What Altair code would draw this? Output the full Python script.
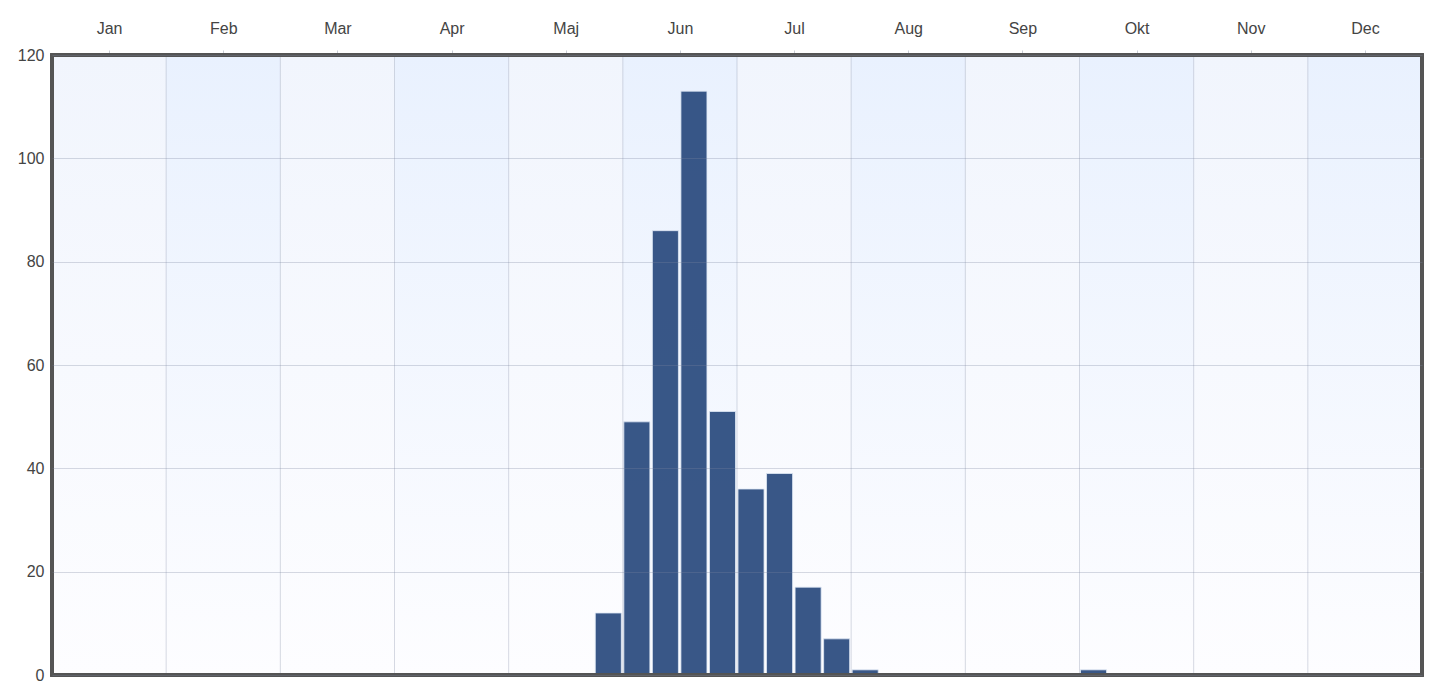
import altair as alt
import pandas as pd

months = ["Jan", "Feb", "Mar", "Apr", "Maj", "Jun", "Jul", "Aug", "Sep", "Okt", "Nov", "Dec"]

# bars: month index (0=Jan), quarter of month (0..3), count
bar_month = [4, 5, 5, 5, 5, 6, 6, 6, 6, 7, 9]
bar_quarter = [3, 0, 1, 2, 3, 0, 1, 2, 3, 0, 0]
bar_count = [12, 49, 86, 113, 51, 36, 39, 17, 7, 1, 1]

bars_df = pd.DataFrame({"m": bar_month, "q": bar_quarter, "count": bar_count})
bands_df = pd.DataFrame({"m": list(range(12)), "name": months})
grid_df = pd.DataFrame({"b": list(range(1, 12))})

xscale = alt.Scale(domain=[0, 12], nice=False, zero=False)
yscale = alt.Scale(domain=[0, 120], nice=False)

def grad(top):
    return alt.LinearGradient(
        gradient="linear", x1=0, x2=0, y1=0, y2=1,
        stops=[alt.GradientStop(color=top, offset=0),
               alt.GradientStop(color="#fdfdff", offset=1)])

base_band = alt.Chart(bands_df).transform_calculate(
    x2="datum.m + 1", top="120", bottom="0")

odd = base_band.transform_filter("datum.m % 2 == 0").mark_rect(fill=grad("#f1f5fd")).encode(
    x=alt.X("m:Q", scale=xscale,
            axis=alt.Axis(orient="top", values=[i + 0.5 for i in range(12)],
                          labelExpr="['Jan','Feb','Mar','Apr','Maj','Jun','Jul','Aug','Sep','Okt','Nov','Dec'][floor(datum.value)]",
                          grid=False, domain=False, tickSize=5, tickColor="#c8ccd4",
                          labelPadding=14, labelFontSize=16, labelColor="#444444",
                          labelFont="Liberation Sans", title=None)),
    x2="x2:Q",
    y=alt.Y("top:Q", scale=yscale,
            axis=alt.Axis(values=[0, 20, 40, 60, 80, 100, 120], grid=True, gridColor="#7a86a0",
                          gridOpacity=0.3, gridWidth=1, ticks=False, domain=False,
                          labelPadding=8, labelFontSize=16, labelColor="#444444",
                          labelFont="Liberation Sans", title=None, zindex=1)),
    y2="bottom:Q",
)
even = base_band.transform_filter("datum.m % 2 == 1").mark_rect(fill=grad("#e9f1fe")).encode(
    x=alt.X("m:Q", scale=xscale), x2="x2:Q",
    y=alt.Y("top:Q", scale=yscale), y2="bottom:Q",
)

bars = alt.Chart(bars_df).transform_calculate(
    x="datum.m + datum.q / 4", x2="datum.m + (datum.q + 1) / 4"
).mark_rect(fill="#24457a", fillOpacity=0.9, stroke="#dfe8f5", strokeOpacity=0.8,
            strokeWidth=1, xOffset=1, x2Offset=-1.5).encode(
    x=alt.X("x:Q", scale=xscale), x2="x2:Q",
    y=alt.Y("count:Q", scale=yscale), y2=alt.datum(0),
)

vgrid = alt.Chart(grid_df).mark_rule(color="#7a86a0", opacity=0.3, strokeWidth=1).encode(
    x=alt.X("b:Q", scale=xscale),
)

frame = alt.Chart(grid_df).mark_rect(filled=False, stroke="#555555", strokeWidth=3).encode(
    x=alt.value(0), x2=alt.value(1370), y=alt.value(0), y2=alt.value(620),
)

chart = alt.layer(odd, even, bars, vgrid, frame).properties(
    width=1370, height=620,
    autosize=alt.AutoSizeParams(type="none"),
    padding={"left": 44, "top": 47, "right": 15, "bottom": 10},
).configure_view(stroke=None).configure(background="white")

chart.save("out.html", embed_options={"renderer": "svg", "actions": False})
